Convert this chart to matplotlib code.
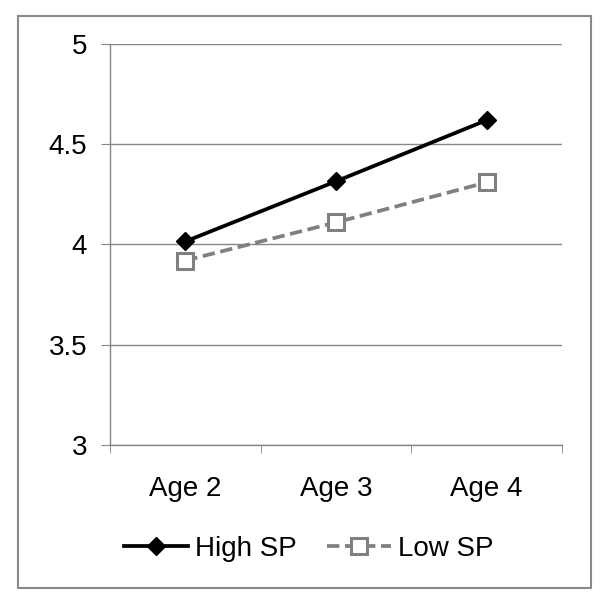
import matplotlib.pyplot as plt
import matplotlib.patches as patches

plt.rcParams['font.family'] = ['Liberation Sans', 'DejaVu Sans']

ages = ["Age 2", "Age 3", "Age 4"]
high_sp = [4.015, 4.315, 4.62]
low_sp = [3.92, 4.11, 4.31]
y_ticks = [3, 3.5, 4, 4.5, 5]

grid_col = '#868686'

fig = plt.figure(figsize=(6, 6.01), dpi=100)
ax = fig.add_axes([0.1833, 0.2596, 0.7534, 0.6672])

x = list(range(len(ages)))
ax.plot(x, high_sp, color='black', lw=2.7, marker='D', markersize=9,
        label='High SP', zorder=3)
ax.plot(x, low_sp, color='#808080', lw=2.7, ls=(0, (3.3, 1.5)), marker='s',
        markersize=12, markerfacecolor='white', markeredgecolor='#808080',
        markeredgewidth=2.2, label='Low SP', zorder=3)

ax.set_xlim(-0.5, 2.5)
ax.set_ylim(3, 5)
ax.set_yticks(y_ticks)
ax.set_yticklabels([f"{v:g}" for v in y_ticks])
ax.set_xticks(x)
ax.set_xticklabels(ages)
ax.set_xticks([-0.5, 0.5, 1.5, 2.5], minor=True)

ax.grid(axis='y', color=grid_col, lw=1)
ax.set_axisbelow(True)
for s in ['top', 'right']:
    ax.spines[s].set_visible(False)
for s in ['left', 'bottom']:
    ax.spines[s].set_color(grid_col)
    ax.spines[s].set_linewidth(1)

ax.tick_params(axis='y', length=6.5, color=grid_col, pad=10, labelsize=20)
ax.tick_params(axis='x', which='major', length=0, pad=22, labelsize=20)
ax.tick_params(axis='x', which='minor', length=6, color=grid_col)

fig.legend(loc='center', bbox_to_anchor=(0.515, 0.0865), ncol=2, frameon=False,
           fontsize=20, handlelength=2.3, handletextpad=0.25, columnspacing=1.1)

fig.patches.append(patches.Rectangle((18 / 600, 1 - 588 / 601), 573 / 600, 572 / 601,
                                     transform=fig.transFigure, fill=False,
                                     edgecolor='#898989', lw=1.5))

fig.savefig('out.png', dpi=100)
